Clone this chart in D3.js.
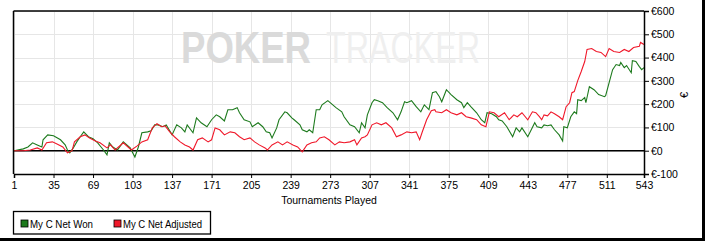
<!DOCTYPE html>
<html><head><meta charset="utf-8">
<script src="https://cdn.jsdelivr.net/npm/d3@7"></script>
<style>
html,body{margin:0;padding:0;background:#fff;}
svg{display:block;font-family:"Liberation Sans",Arial,sans-serif;}
</style></head>
<body>
<svg id="c" width="705" height="241"></svg>
<script>
// ---- data ----
const xTicks = [1,35,69,103,137,171,205,239,273,307,341,375,409,443,477,511,543];
const yTicks = [-100,0,100,200,300,400,500,600];
const seriesNames = ["My C Net Won","My C Net Adjusted"];

const wonT = [1,9,13,17,21,25,26,30,35,41,45,47,49,52,55,58,61,65,69,73,78,81,83,86,90,95,101,105,108,111,116,119,122,125,129,132,137,141,145,148,150,155,158,162,167,171,175,178,182,185,189,193,195,199,204,206,211,215,218,221,223,227,229,234,236,240,242,247,249,253,255,258,261,264,266,271,274,278,283,285,290,294,298,300,303,305,309,311,314,318,322,327,331,334,337,339,343,347,351,354,358,361,364,367,369,373,377,382,386,388,391,394,399,403,406,408,412,416,418,421,425,430,433,436,438,443,446,449,451,455,457,460,463,466,470,473,474,477,480,483,485,486,489,492,493,496,500,504,509,510,513,516,519,522,523,526,528,532,533,536,539,541,543];
const wonV = [0,8,16,34,25,16,47,68,64,47,25,3,-9,12,38,60,81,60,51,34,3,-18,34,16,3,38,12,-27,16,77,81,86,111,111,103,111,68,111,98,81,111,77,141,120,103,133,154,146,128,176,176,185,163,133,124,103,120,103,81,77,55,98,133,167,163,141,133,111,90,81,90,77,176,176,197,215,202,185,167,146,111,103,77,120,98,154,206,219,215,206,185,163,133,167,210,206,215,189,167,197,176,249,254,232,210,262,241,219,206,185,206,189,163,133,120,163,159,146,133,128,103,60,98,81,98,60,90,120,103,98,111,107,111,90,68,42,103,98,146,167,159,219,215,228,206,275,262,241,232,236,292,348,370,366,379,357,366,335,387,383,361,348,357];

const adjT = [1,9,15,21,25,29,34,38,43,47,51,53,58,62,66,71,75,81,84,88,95,102,107,111,116,120,124,128,131,135,139,144,148,152,155,159,163,168,171,174,178,182,187,191,195,199,204,208,212,217,219,223,228,232,236,241,245,249,253,257,261,264,268,272,277,281,285,290,294,296,300,303,305,309,313,317,321,326,330,334,339,343,347,350,352,356,360,363,364,369,373,377,382,386,390,394,399,403,407,410,414,418,423,427,431,434,438,443,447,450,453,455,457,460,463,466,470,473,476,479,481,483,486,489,492,494,498,502,506,510,513,517,522,526,530,534,539,540,543];
const adjV = [0,0,3,12,3,34,38,29,16,-9,0,38,60,68,55,42,34,12,25,3,34,3,21,38,47,98,116,103,107,81,60,38,25,16,3,47,55,38,47,98,90,68,81,77,60,47,55,38,25,12,3,25,38,25,38,25,16,-5,25,34,38,55,60,47,25,38,34,38,47,25,55,60,68,111,120,111,120,98,60,68,81,77,81,47,77,133,172,176,167,163,176,163,154,163,146,141,133,111,103,167,163,146,163,133,154,146,163,133,167,163,146,133,154,150,167,159,146,133,189,206,249,254,301,340,383,435,439,426,422,404,439,426,422,435,426,443,448,465,456];

// ---- layout ----
const W = 705, H = 241;
const x0 = 14, x1 = 644, yTop = 11, yBot = 174;
const green = "#1d7a1d", red = "#f0182a";
const svg = d3.select("#c");

const x = d3.scaleLinear().domain([1,543]).range([x0,x1]);
const y = d3.scaleLinear().domain([-100,600]).range([yBot,yTop]);

// outer shadow frame (right & bottom)
svg.append("rect").attr("x",W-3).attr("y",0).attr("width",3).attr("height",H).attr("fill","#000");
svg.append("rect").attr("x",0).attr("y",H-3).attr("width",W).attr("height",3).attr("fill","#000");

// gridlines
const grid = svg.append("g").attr("stroke","#e6e6e6").attr("stroke-width",1);
grid.selectAll("line.v").data(xTicks).join("line")
  .attr("x1",d=>Math.round(x(d))+0.5).attr("x2",d=>Math.round(x(d))+0.5)
  .attr("y1",yTop).attr("y2",yBot);
grid.selectAll("line.h").data(yTicks).join("line")
  .attr("x1",x0).attr("x2",x1)
  .attr("y1",d=>Math.round(y(d))+0.5).attr("y2",d=>Math.round(y(d))+0.5);

// watermark
const wm = svg.append("g").attr("font-family","'Liberation Sans',Arial,sans-serif");
wm.append("text").attr("x",181).attr("y",63).attr("font-size",44).attr("font-weight","bold")
  .attr("fill","#dadada").attr("textLength",130).attr("lengthAdjust","spacingAndGlyphs").text("POKER");
wm.append("text").attr("x",326).attr("y",63).attr("font-size",44)
  .attr("fill","#efefef").attr("textLength",154).attr("lengthAdjust","spacingAndGlyphs").text("TRACKER");

// zero line
svg.append("line").attr("x1",x0).attr("x2",x1).attr("y1",y(0)).attr("y2",y(0))
  .attr("stroke","#000").attr("stroke-width",1.5);

// lines
const line = d3.line().x(d=>x(d[0])).y(d=>y(d[1]));
const wonData = wonT.map((t,i)=>[t,wonV[i]]);
const adjData = adjT.map((t,i)=>[t,adjV[i]]);
svg.append("path").datum(wonData).attr("d",line).attr("fill","none").attr("stroke",green).attr("stroke-width",1.1);
svg.append("path").datum(adjData).attr("d",line).attr("fill","none").attr("stroke",red).attr("stroke-width",1.1);

// frame
svg.append("line").attr("x1",x0-0.5).attr("x2",x1).attr("y1",yTop).attr("y2",yTop).attr("stroke","#000").attr("stroke-width",1.5);
svg.append("line").attr("x1",x0-0.5).attr("x2",x0-0.5).attr("y1",yTop).attr("y2",yBot).attr("stroke","#000").attr("stroke-width",1.5);

// x axis
const xAxis = d3.axisBottom(x).tickValues(xTicks).tickFormat(d3.format("d")).tickSizeOuter(0).tickSize(4).tickPadding(4);
const gx = svg.append("g").attr("transform",`translate(0,${yBot})`).call(xAxis);
gx.select(".domain").attr("stroke","#000").attr("stroke-width",1.5);
gx.selectAll(".tick line").attr("stroke","#000");
gx.selectAll("text").attr("font-size",10.5).attr("font-family","'Liberation Sans',Arial,sans-serif").attr("fill","#000");

// y axis (right)
const yAxis = d3.axisRight(y).tickValues(yTicks).tickFormat(d=>"€"+d).tickSizeOuter(0).tickSize(5).tickPadding(2);
const gy = svg.append("g").attr("transform",`translate(${x1},0)`).call(yAxis);
gy.select(".domain").attr("stroke","#000").attr("stroke-width",1.5);
gy.selectAll(".tick line").attr("stroke","#000");
gy.selectAll("text").attr("font-size",10.5).attr("font-family","'Liberation Sans',Arial,sans-serif").attr("fill","#000");

// axis titles
svg.append("text").attr("x",(x0+x1)/2).attr("y",203.5).attr("text-anchor","middle")
  .attr("font-size",10.5).attr("fill","#000").text("Tournaments Played");
svg.append("text").attr("transform","translate(688,95) rotate(-90)").attr("text-anchor","middle")
  .attr("font-size",11).attr("fill","#000").text("€");

// legend
const lg = svg.append("g");
lg.append("rect").attr("x",13.5).attr("y",211.5).attr("width",197).attr("height",22.5)
  .attr("fill","#fff").attr("stroke","#000").attr("stroke-width",1.3);
const items = [{name:seriesNames[0],color:green,x:21,len:63},{name:seriesNames[1],color:red,x:114,len:79}];
items.forEach(it=>{
  lg.append("rect").attr("x",it.x).attr("y",220).attr("width",7).attr("height",7)
    .attr("fill",it.color).attr("stroke","#000").attr("stroke-width",0.8);
  lg.append("text").attr("x",it.x+9).attr("y",227.5).attr("font-size",10.5).attr("fill","#000")
    .attr("textLength",it.len).attr("lengthAdjust","spacingAndGlyphs").text(it.name);
});
</script>
</body></html>
